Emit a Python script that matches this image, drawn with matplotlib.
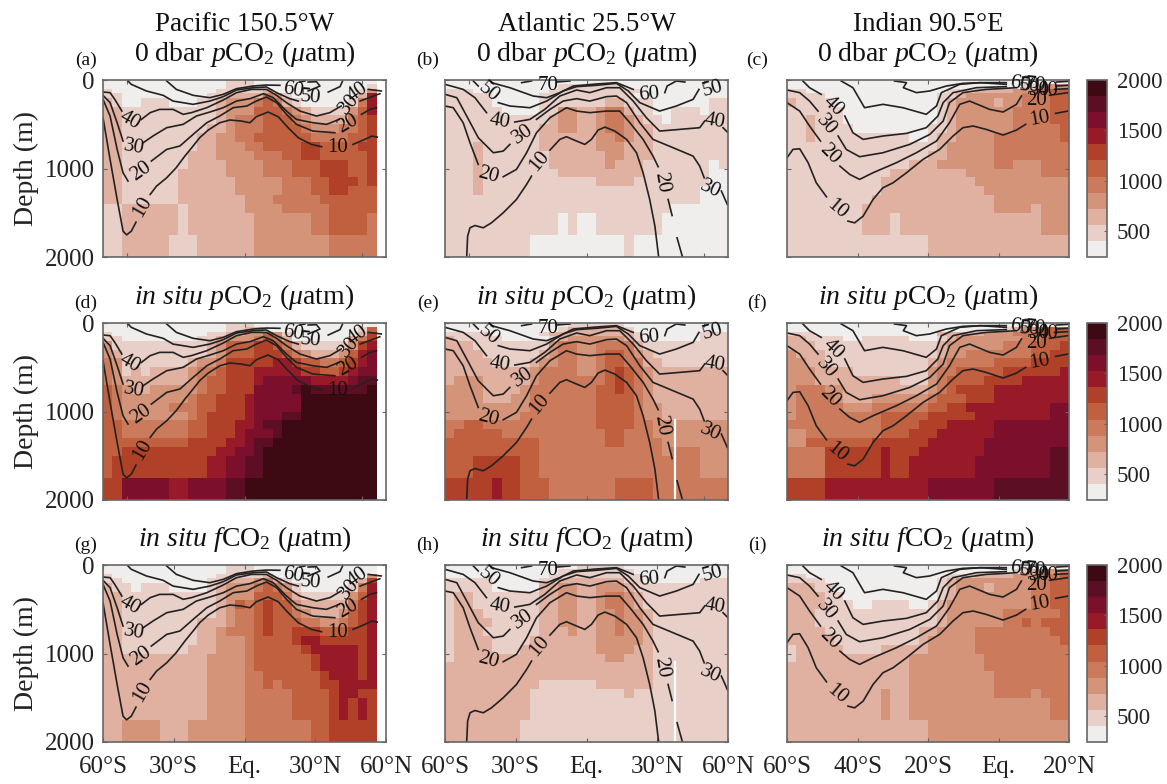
#Ocean pCO2 / fCO2 sections for three basins, 3 rows x 3 columns

import numpy as np
import matplotlib
matplotlib.use("Agg")
import matplotlib.pyplot as plt
from matplotlib.colors import ListedColormap, BoundaryNorm

plt.rcParams['font.family'] = ['Liberation Serif', 'DejaVu Serif']
plt.rcParams['mathtext.fontset'] = 'custom'
plt.rcParams['mathtext.rm'] = 'Liberation Serif'
plt.rcParams['mathtext.it'] = 'Liberation Serif:italic'
plt.rcParams['mathtext.bf'] = 'Liberation Serif:bold'

# colour classes (uatm)
levels = [240, 400, 560, 720, 880, 1040, 1200, 1360, 1520, 1680, 1840, 2000]
colours = ['#efeeed', '#e8cfc8', '#e0b0a0', '#d49479', '#cc7a5c', '#c0603f',
           '#b04028', '#981a28', '#7c0f2c', '#5c0e24', '#3d0a14']
cbar_ticks = [500, 1000, 1500, 2000]

depth_edges = [0, 50, 100, 150, 200, 300, 400, 500, 600, 700, 800, 900, 1000,
               1100, 1200, 1300, 1400, 1500, 1750, 2000]

# class index per depth row (top to bottom), one character per column, . = no data
panel_a = [
    "0"*13+"111"+"0"*13+".",
    "0"*13+"111"+"0"*12+"1.",
    "1"+"0"*11+"11111"+"2"+"0"*9+"13.",
    "11"+"0"*9+"11"+"222"+"2"+"4"+"3"+"1"+"0"*7+"27.",
    "21"+"00"+"111"+"000"+"11"+"2"+"333"+"4"+"5"+"4"+"2"+"1"+"00000"+"1"+"4"+"7.",
    "22"+"11"+"111111"+"11"+"2"+"333"+"555"+"4"+"3"+"2"+"111"+"1"+"3"+"5"+"7.",
    "22"+"1"*10+"2"+"3"+"44"+"4"+"555"+"4"+"3"+"2"+"22"+"2"+"4"+"5"+"6.",
    "22"+"1"*9+"22"+"3"+"44"+"4"+"555"+"5"+"4"+"3"+"33"+"4"+"4"+"5"+"6.",
    "22"+"1"*8+"22"+"33"+"44"+"5"+"555"+"5"+"5"+"4"+"44"+"4"+"5"+"5"+"6.",
    "22"+"1"*8+"22"+"333"+"44"+"55"+"55"+"66"+"5555"+"66.",
    "22"+"1"*7+"222"+"3333"+"444"+"55"+"66"+"5555"+"5"+"6.",
    "22"+"1"*7+"2222"+"33"+"33"+"444"+"555"+"666"+"55"+"6.",
    "22"+"1"*6+"22222"+"3333"+"444"+"555"+"666"+"55"+"6.",
    "22"+"1"*6+"2"*6+"3"*5+"444"+"55"+"666"+"5"+"6.",
    "22"+"1"*6+"2"*6+"33"+"333"+"444"+"55"+"66"+"555.",
    "22"+"1"*6+"2"*7+"333"+"4"*5+"5"*6+".",
    "11"+"2"*6+"1"+"2"*6+"3333"+"4"*5+"5"*5+".",
    "11"+"2"*6+"1"+"2"*7+"3"*6+"44"+"5555"+"4.",
    "11"+"2"*5+"111"+"2"*6+"3"*8+"4"*5+".",
]
panel_b = [
    "0"*30,
    "0"*12+"1"*7+"0"*11,
    "111"+"0"*8+"1"*10+"0"*9,
    "1"*5+"0"*5+"1"*10+"0"*10,
    "1"*5+"0"*5+"1"*7+"22"+"111"+"0"*6+"11",
    "1"*6+"0"*4+"11"+"33"+"22"+"3"+"44"+"2"+"11"+"00"+"111"+"0"+"11",
    "1"*11+"2"+"33"+"22"+"3"+"44"+"3"+"2"+"11"+"0"+"1"*6,
    "1"*10+"22"+"33"+"22"+"3"+"4"+"4"+"3"+"22"+"1"*8,
    "1"*10+"2222"+"22"+"33"+"4"+"3"+"22"+"1"*8,
    "111"+"2"+"1"*6+"2"*6+"333"+"222"+"1"*8,
    "111"+"2"+"1"*7+"2"*6+"33"+"222"+"1"*8,
    "111"+"2"+"1"*7+"2"*6+"3"+"222"+"1"*7+"01",
    "111"+"2"+"1"*8+"2"*9+"1"*7+"00",
    "111"+"2"+"1"*12+"2"*4+"1"*8+"00",
    "111"+"2"+"1"*23+"000",
    "1"*27+"000",
    "1"*24+"0"*6,
    "1"*12+"0"+"1"+"00"+"1"*7+"0"*7,
    "1"*9+"0"*10+"1"+"0"*10,
]
panel_c = [
    "0"*30,
    "0"*25+"11"+"2"+"33",
    "11"+"0"*15+"111"+"222"+"2"+"33"+"44"+"55",
    "1111"+"0"*12+"11"+"2"+"3333"+"33"+"4"+"44"+"55",
    "2"+"1111"+"0"*11+"1"+"2"+"3333"+"2"+"33"+"4"+"44"+"55",
    "1"*6+"0"*10+"1"+"2"+"3"*6+"4"*4+"55",
    "11"+"2"+"111"+"0"*10+"1"+"2"+"3"*6+"4"*4+"55",
    "11"+"2"+"1"*4+"0"*8+"11"+"2"+"3"*6+"4"*5+"5",
    "11"+"2"+"1"*10+"00"+"1"+"22"+"3"*4+"4"*7+"5",
    "1"*16+"2"+"3"*5+"4"*8,
    "1"*15+"22"+"3"*5+"4"*8,
    "1"*13+"222"+"3"*6+"44"+"333"+"444",
    "1"*11+"2"*8+"3"*8+"444",
    "1"*10+"2"*10+"3"*10,
    "1"*10+"2"*11+"3"*9,
    "1"*9+"2"*13+"3"*8,
    "1"*8+"2"*14+"3"*4+"2"+"333",
    "1"*8+"222"+"1"+"2"*15+"333",
    "1"*15+"2"*15,
]
panel_d = [
    "0"*13+"111"+"0"*13+".",
    "0"*13+"11"+"22"+"0"*10+"15.",
    "1"+"0"*10+"1"+"1"+"22"+"33"+"5"+"3"+"1"+"0"*7+"26.",
    "11"+"0"*8+"1"+"12"+"333"+"4"+"5"+"4"+"2"+"0"*6+"246.",
    "3"+"1"*10+"2"+"3"+"555"+"66"+"5"+"4"+"2"+"1"*5+"367.",
    "32"+"1"*9+"2"+"3"+"555"+"666"+"5"+"4"+"3"+"222"+"3"+"578.",
    "43"+"1"*7+"2"+"33"+"4"+"666"+"66"+"77"+"6"+"55"+"44"+"5"+"678.",
    "43"+"12"+"1"+"2"*4+"3"+"44"+"5"+"666"+"77"+"777"+"6"+"65"+"5"+"6"+"7"+"88.",
    "43"+"2"*7+"3"+"4"+"55"+"666"+"7"+"8"*5+"7"*4+"8"+"99.",
    "54"+"3"+"22"+"3"*4+"3"+"4"+"55"+"666"+"8"*4+"9"+"a"+"9"*6+"a.",
    "54"+"3"*7+"4"+"55"+"666"+"7"+"8"*5+"a"*8+".",
    "54"+"3"*5+"44"+"4"+"55"+"666"+"7"+"8"*5+"a"*8+".",
    "54"+"3"*7+"4"+"5"+"66"+"66"+"7"+"888"+"99"+"a"*8+".",
    "55"+"4"*7+"55"+"666"+"77"+"8"+"99"+"a"*10+".",
    "55"+"4"*7+"55"+"6"+"66"+"7"+"888"+"9"+"a"*10+".",
    "5"*9+"6"*4+"77"+"8"+"99"+"a"*11+".",
    "55"+"6"*10+"77"+"88"+"9"+"a"*12+".",
    "56"+"6"*9+"77"+"88"+"99"+"a"*12+".",
    "66"+"8"*5+"77"+"8"*4+"99"+"a"*14+".",
]
panel_e = [
    "0"*13+"1"*6+"0"*11,
    "0"*12+"1"+"2"*6+"1"+"0"*10,
    "1"*5+"0"*5+"1"+"222"+"2"*6+"1"+"0"*6+"111",
    "2"+"1"*5+"0"*5+"1"+"2"+"3"*6+"2"+"1"+"0"*6+"111",
    "222"+"1"*8+"3"+"44"+"33"+"4444"+"2"+"1"*9,
    "2"*4+"1"*6+"2"+"3"+"44"+"33"+"4"+"55"+"4"+"3"+"2"+"1"*8,
    "2"*5+"1"*4+"2"+"33"+"44"+"33"+"4"+"55"+"44"+"22"+"1"*7,
    "2"*9+"3"+"4"*4+"33"+"4"+"5"+"6"+"5"+"4"+"3"+"2"*8,
    "2"+"333"+"2"*5+"3"+"4"*7+"5"+"6"+"5"+"4"+"3"+"2"*8,
    "3"*4+"2"*4+"3"+"4"*7+"55"+"6"+"5"+"4"+"3"+"2"*8,
    "3"*4+"222"+"33"+"4"*7+"5"*4+"4"+"3"+"2"*8,
    "3"*9+"4"*7+"5"*4+"4"+"33"+"2"*7,
    "3"*8+"4"*8+"5"*4+"4"+"33"+"2"*7,
    "44"+"55"+"4"*12+"5"*4+"44"+"3"*8,
    "4"+"5"*5+"4"*11+"55"+"444"+"3"*8,
    "5"*10+"4"*7+"55"+"4"*4+"3"*7,
    "5"*10+"4"*13+"3"+"444"+"333",
    "555"+"6"*5+"55"+"4"*17+"333",
    "6"*5+"7"+"66"+"555"+"4"*7+"5"*4+"4"*8,
]
panel_f = [
    "0"*30,
    "0"*23+"1"+"2"+"33"+"4"+"55",
    "111"+"0"*13+"2"*5+"333"+"444"+"555",
    "22"+"1"*4+"00"+"1"*5+"000"+"1"+"2"+"3"*7+"44"+"555",
    "222"+"1"*13+"2"+"3"+"3"*5+"4"+"44"+"555"+"6",
    "3"+"222"+"1"*12+"2"+"33"+"4"*7+"55"+"66",
    "33"+"22"+"1"*11+"2"+"3"+"4"*5+"5"*4+"6"*4,
    "333"+"2222"+"1"*8+"3"+"44"+"5"*5+"6"*6+"7",
    "333"+"2"*9+"111"+"3"+"4"+"5"*4+"6"*4+"7"*5,
    "3"+"444"+"33"+"2"*9+"3"+"4"+"5"+"666"+"6"+"7"*8,
    "3"+"4"*4+"3"+"222"+"3"*6+"4"+"555"+"666"+"7"*8,
    "3"+"4"*5+"333"+"4"*6+"55"+"66"+"7"*9+"88",
    "3"+"4"*9+"5"*5+"6"*5+"7"*8+"88",
    "4"*10+"5"*4+"666"+"7"*5+"8"*8,
    "33"+"4"*8+"555"+"666"+"7"*6+"8"*8,
    "33"+"5"*7+"6"*6+"7"*6+"8"*9,
    "4"*4+"6"*6+"7"+"666"+"7"*7+"8"*7+"99",
    "4"*4+"6"*6+"7"+"66"+"7"*7+"8"*8+"99",
    "6"*4+"7"*11+"8"*7+"9"*8,
]
panel_g = [
    "0"*13+"111"+"0"*13+".",
    "0"*13+"111"+"0"*13+".",
    "1"+"0"*11+"11111"+"2"+"0"*10+"3.",
    "11"+"0"*9+"11"+"222"+"3"+"4"+"2"+"1"+"0"*7+"26.",
    "211"+"0"+"111"+"0000"+"1"+"2"+"333"+"4"+"5"+"4"+"3"+"1"+"0"*5+"147.",
    "22"+"1"*9+"1"+"2"+"33"+"3"+"555"+"4"+"2"+"1"*5+"357.",
    "22"+"1"*10+"2"+"3"+"5"+"4"+"5"+"6"+"55"+"3"+"2"*5+"467.",
    "22"+"1"*10+"2"+"3"+"4"+"4"+"5"+"6"+"55"+"4"+"3"+"222"+"3"+"567.",
    "22"+"1"*8+"22"+"2"+"3"+"44"+"5"+"6"+"55"+"5"+"4"+"4"+"33"+"4"+"5"+"67.",
    "22"+"1"*8+"22"+"3"+"444"+"5"+"6"+"55"+"666"+"555"+"66"+"7.",
    "22"+"1"*8+"22"+"333"+"4"+"5555"+"6"+"77"+"6"*5+"7.",
    "22"+"1"*7+"222"+"333"+"4"+"5"*5+"6"+"7"*5+"67.",
    "2"*11+"3"*4+"4"+"5"*6+"6"+"7"*4+"67.",
    "2"*11+"3"*4+"4"+"5"*6+"6"+"7"*4+"67.",
    "2"*11+"3"*4+"44"+"5"*6+"6"+"777"+"67.",
    "2"*11+"3"*4+"44"+"5"+"4"+"5"*4+"66"+"77"+"77.",
    "2"*11+"3"*4+"4"*5+"5"*4+"6"+"77"+"66.",
    "2"*11+"3"*4+"4"*5+"5"*4+"67676.",
    "22"+"3"*4+"222"+"3"*6+"4"*7+"55"+"6"*5+".",
]
panel_h = [
    "0"*14+"1"*5+"0"*11,
    "0"*12+"1"*8+"0"*10,
    "0"*11+"1"*10+"0"*9,
    "1"*5+"0"*5+"11"+"2"*7+"11"+"0"*6+"111",
    "1"*5+"0"*5+"22"+"33"+"22"+"333"+"2"+"1"+"1"*9,
    "1"+"22"+"1"*7+"22"+"33"+"22"+"3"+"44"+"3"+"2"+"1"*9,
    "1"+"22"+"1"*7+"22"+"33"+"22"+"3"+"44"+"3"+"2"+"1"*9,
    "1"+"222"+"1"*6+"22"+"33"+"22"+"33"+"4"+"3"+"3"+"2"+"1"*8,
    "1"+"222"+"2"+"1"*5+"22"+"33"+"22"+"33"+"4"+"3"+"3"+"2"+"1"*8,
    "1"+"222"+"1"*6+"222"+"3"+"22"+"33"+"4"+"3"+"3"+"2"+"1"*8,
    "1"+"222"+"2"+"1"*4+"2"*7+"333"+"33"+"2"+"1"*8,
    "1"+"2"*4+"111"+"2"*8+"3333"+"22"+"1"*8,
    "1"+"2"*16+"33"+"222"+"1"*8,
    "2"*22+"1"*8,
    "2"*22+"1"*8,
    "2"*10+"1"*6+"2"*6+"1"*8,
    "2"*9+"1"*10+"2"+"1"*10,
    "2"*9+"1"*21,
    "2"*8+"1"*22,
]
panel_i = [
    "0"*30,
    "0"*24+"11"+"2"+"33"+"4",
    "11"+"0"*15+"111"+"2222"+"33"+"3"+"44"+"5",
    "1"*4+"0"*12+"1"+"2"+"3"*6+"3"+"3"+"44"+"55",
    "222"+"11"+"0"*11+"1"+"2"+"333"+"2"+"3333"+"44"+"55",
    "2"*4+"11"+"0"*10+"1"+"2"+"3"*8+"44"+"55",
    "222"+"2"+"111"+"00"+"1111"+"00"+"1"+"2"+"3"+"3"*5+"333"+"44"+"55",
    "222"+"1"*12+"1"+"2"+"3"*6+"444"+"444"+"5",
    "2"*3+"1"*13+"2"+"3"*6+"44"+"5"+"4"+"555",
    "2222"+"1"*10+"22"+"3"*4+"4"*8+"55",
    "2"*5+"1"*9+"2"+"3"*5+"4"*8+"45",
    "1"+"2"*5+"1"*4+"2"*5+"3"*5+"4"*10,
    "1"+"2"*12+"3"*8+"4"*9,
    "2"*13+"3"*8+"4"*9,
    "2"*13+"3"*9+"4"*8,
    "2"*13+"3"*9+"4"*8,
    "2"*10+"3"+"22"+"3"*9+"4"*4+"3"+"444",
    "2"*10+"3"+"22"+"3"*15+"44",
    "2"*15+"3"*15,
]

# contour segments (lon, depth), broken where the label sits
pacific_lines = [
    [(-60,426),(-57,897),(-54,1350),(-51.5,1708),(-50,1750),(-48,1708),(-46,1606)],
    [(-40,1293),(-37.3,1199),(-33,1105),(-29,992),(-25.3,860),(-21.8,746),(-19,652),(-15.4,566),(-10.5,483),(-6.2,452),(-1.3,464),(2.3,483),(5,415),(10,362),(14.3,415),(18.5,539),(22.8,652),(28.4,728),(32.7,754)],
    [(46,728),(51,671),(54,634),(56.3,645)],
    [(-60,219),(-57,407),(-54,784),(-51.5,1048),(-49.4,1142)],
    [(-39.5,916),(-33,784),(-27.4,746),(-21.8,615),(-16,483),(-10.5,407),(-4.8,313),(1,294),(5,238),(9.3,192),(13.6,256),(17.8,388),(22,501),(29,577),(38.3,596)],
    [(49.6,388),(53.2,332),(56,313)],
    [(-60,173),(-57,256),(-54,483),(-51.5,690)],
    [(-43,709),(-38.8,633),(-33,539),(-26,501),(-20.4,407),(-14.7,362),(-9,313),(-3.4,238),(2.3,211),(8,155),(12.2,200),(17.8,351),(22,445),(29,483),(34.8,501),(40.2,445)],
    [(49,238),(57.4,155)],
    [(-60,136),(-57,143),(-55,219),(-52,351)],
    [(-43.7,445),(-40,369),(-36,332),(-30.3,332),(-26,388),(-22.5,369),(-16,313),(-9,226),(-3.4,143),(3,106),(9.3,106),(13.6,173),(17.8,256),(23.5,351),(30.5,407),(36.2,369),(41,294)],
    [(52.5,106),(58,124)],
    [(-49.4,11),(-48,49),(-41.6,124),(-34.5,173),(-30.3,238),(-21.8,275),(-14.7,238),(-9,188),(-3.4,113),(3.7,87),(9.3,79),(13.6,143),(19.2,211),(22.8,238)],
    [(35.5,136),(40.5,75),(41.6,11)],
    [(27,124),(32,68),(30.5,19),(27,23)],
    [(-33,11),(-28.9,106),(-21.8,173),(-14.7,200),(-9,162),(-3.4,98),(3.7,68),(9.3,57),(15,60)],
    [(23.5,23),(25.6,11)],
]
pacific_labels = [("40",-48.7,456,-30),("30",-47,765,-10),("20",-44,1029,35),("10",-43.3,1433,60),
                  ("60",20.6,117,-10),("50",28,200,-5),("40",47.8,143,35),("30",44.4,275,50),
                  ("20",44,501,30),("10",39.5,765,0)]

atlantic_lines = [
    [(-50.8,2000),(-50.4,1764),(-49.4,1670),(-47.3,1644),(-43.8,1670),(-40.3,1614),(-35.3,1500),(-29.7,1350),(-25.4,1180),(-23.3,1086)],
    [(-15.5,792),(-11.3,671),(-8.5,641),(-4.2,690),(-0.7,728),(2.1,671),(4.9,566),(7.8,532),(12,577),(17,671),(21.2,822),(24,1048),(26.8,1350),(29,1651),(30.6,2000)],
    [(-60,294),(-56.5,313),(-52.3,483),(-49.4,709),(-45.9,954)],
    [(-35.3,1093),(-29.7,1010),(-25.4,822),(-21.2,596),(-15.5,426),(-8.5,313),(-4.2,351),(1.4,369),(8.5,351),(14.1,351),(18.4,483),(24,671),(28.2,860),(30.4,980)],
    [(34.6,1350),(36.3,1531)],
    [(38.4,1783),(40.7,2000)],
    [(-60,162),(-55,200),(-50.8,407),(-45.9,652),(-39.5,822),(-35.3,803),(-32.5,728)],
    [(-21.2,445),(-15.5,332),(-9.9,238),(-4.2,211),(1.4,238),(8.5,188),(12.7,181),(17,256),(22.6,483),(28.2,671),(36.7,765),(45.2,860),(48,973),(49.9,1105)],
    [(57.2,1255),(59.7,1406)],
    [(-60,49),(-52.3,106),(-47.3,200),(-42.4,369)],
    [(-30.4,475),(-24,445),(-17.7,332),(-11.3,181),(-4.2,113),(1.4,143),(8.5,87),(14.1,87),(19.8,238),(25.4,426),(31,577),(39.5,558),(48,539),(50.1,464)],
    [(57.9,539),(59.7,588)],
    [(-48,11),(-45.9,68)],
    [(-37.4,256),(-32.5,294),(-24,313),(-16.9,238),(-9.9,124),(-4.2,75),(4.2,60),(12.7,38),(17.7,124),(22.6,256),(31,351),(38.1,294),(45.2,219),(47.7,106)],
    [(-40.3,30),(-32.5,87),(-22.6,181),(-16.9,200),(-11.3,143),(-5.6,68),(4.2,45),(12.7,30),(19.8,106)],
    [(33.2,143),(34.2,68),(38.1,11),(41.7,23)],
    [(-27.5,30),(-23.3,11)],
    [(-12.7,23),(-7,11)],
]
atlantic_labels = [("50",-41.7,143,-40),("70",-16.2,60,0),("60",26.4,162,5),("50",53.4,106,15),
                   ("40",-36.7,464,-10),("30",-26.8,615,35),("40",54.4,464,-10),("20",-41.7,1074,-15),
                   ("10",-19.8,916,50),("20",31.8,1161,-80),("30",52.3,1237,-25)]
atlantic_gap_lon = 37.7
atlantic_gap_depth = [1093, 2000]

indian_lines = [
    [(-60,878),(-58.3,784),(-56.4,777),(-54,935),(-51.7,1161),(-48.8,1320)],
    [(-42.7,1595),(-40.8,1614),(-38.4,1538),(-35.6,1350),(-32.8,1218),(-29.9,1161),(-26.1,1048),(-21.4,897),(-16.7,784),(-12.9,633),(-10.1,539),(-7.2,520),(-3.5,558),(1.3,622),(5.1,566),(7.7,501)],
    [(16.2,377),(19.7,351)],
    [(-60,256),(-56.4,351),(-53.6,520),(-50.5,690)],
    [(-45,973),(-42.2,1067),(-39.4,1123),(-35.6,1048),(-29,935),(-23.3,822),(-17.6,690),(-13.9,483),(-11,275),(-8.2,238),(-2.5,332),(1.3,362),(5.1,275),(6.5,181)],
    [(14.5,173),(19.7,143)],
    [(-60,113),(-56.4,143),(-53.6,238),(-51.2,351)],
    [(-45.5,633),(-43.2,784),(-39.4,867),(-32.8,822),(-25.2,728),(-19.5,615),(-15.7,464),(-13.9,256),(-10.1,143),(-3.5,106),(5.1,87)],
    [(15.9,106),(19.7,98)],
    [(-55.5,11),(-53.6,87),(-50.3,162)],
    [(-43.6,407),(-41.3,596),(-38.4,671),(-32.8,633),(-26.1,603),(-20.5,539),(-17.2,407),(-15.7,256),(-12.9,143),(-6.3,87),(2.2,75)],
    [(16.4,68),(19.7,60)],
    [(-44.6,11),(-41.3,87),(-38,313),(-32.8,275),(-27.1,313),(-20.5,388),(-17.6,294),(-16.2,143),(-11,49),(-5.3,30),(2.2,49)],
    [(-29.5,11),(-26.1,30),(-27,87),(-23.3,143),(-19.5,124),(-14.8,68),(-10.1,38),(-4.5,30),(2.2,30)],
    [(16.4,23),(19.7,15)],
]
indian_labels = [("40",-47,294,-45),("30",-49,509,-50),("20",-48,841,-45),("10",-45.8,1463,-40),
                 ("60",6.2,49,-10),("50",8.8,75,-5),("70",10.5,60,-5),("30",11.7,113,0),("40",14,113,0),
                 ("20",10.9,226,0),("10",11.7,437,10)]

row_titles = ["0 dbar $\\mathit{p}$CO$_2$ ($\\mu$atm)",
              "$\\mathit{in\\ situ}$ $\\mathit{p}$CO$_2$ ($\\mu$atm)",
              "$\\mathit{in\\ situ}$ $\\mathit{f}$CO$_2$ ($\\mu$atm)"]
column_titles = ["Pacific 150.5°W", "Atlantic 25.5°W", "Indian 90.5°E"]
panel_names = ["(a)", "(b)", "(c)", "(d)", "(e)", "(f)", "(g)", "(h)", "(i)"]
panels = [panel_a, panel_b, panel_c, panel_d, panel_e, panel_f, panel_g, panel_h, panel_i]

lon_ranges = [(-60, 60), (-60, 60), (-60, 20)]
lon_lines = [pacific_lines, atlantic_lines, indian_lines]
lon_labels = [pacific_labels, atlantic_labels, indian_labels]
lat_ticks_upper = [[-50, 0, 50], [-50, 0, 50], [-40, -20, 0]]
lat_labels_lower = [["60°S", "30°S", "Eq.", "30°N", "60°N"],
                    ["60°S", "30°S", "Eq.", "30°N", "60°N"],
                    ["60°S", "40°S", "20°S", "Eq.", "20°N"]]
lat_label_pos = [[-60, -30, 0, 30, 60], [-60, -30, 0, 30, 60], [-60, -40, -20, 0, 20]]

W, H = 1167, 784
col_px = [(103, 386), (445, 728), (787, 1069)]
row_px = [(80, 257), (323, 500), (565, 742)]
edge = '#666666'

cmap = ListedColormap(colours)
cmap.set_bad('white')
norm = BoundaryNorm(levels, cmap.N)
mids = [(levels[i] + levels[i + 1]) / 2 for i in range(len(colours))]


def to_values(rows):
    # a row read a cell short or long is evened out to 30 columns, keeping the no-data edge
    out = []
    for r in rows:
        tail = '.' if r.endswith('.') else ''
        body = r.rstrip('.')
        body = (body + body[-1] * 30)[:30 - len(tail)] + tail
        out.append([np.nan if c == '.' else mids[int(c, 16)] for c in body])
    return np.array(out)


def make_axes(x0, x1, y0, y1):
    return fig.add_axes([x0 / W, 1 - y1 / H, (x1 - x0) / W, (y1 - y0) / H])


def style(ax):
    for s in ax.spines.values():
        s.set_color(edge)
        s.set_linewidth(1.2)


fig = plt.figure(figsize=(W / 100, H / 100), dpi=100)

for r in range(3):
    for c in range(3):
        ax = make_axes(col_px[c][0], col_px[c][1], row_px[r][0], row_px[r][1])
        lon0, lon1 = lon_ranges[c]
        mesh = ax.pcolormesh(np.linspace(lon0, lon1, 31), depth_edges, to_values(panels[r * 3 + c]),
                             cmap=cmap, norm=norm, shading='flat')
        if c == 1 and r > 0:
            ax.plot([atlantic_gap_lon, atlantic_gap_lon], atlantic_gap_depth, color='white', linewidth=1.6)
        for seg in lon_lines[c]:
            pts = np.array(seg)
            ax.plot(pts[:, 0], pts[:, 1], color='#222222', linewidth=1.2, solid_joinstyle='round')
        for txt, lon, dep, rot in lon_labels[c]:
            ax.text(lon, dep, txt, fontsize=15, rotation=rot, ha='center', va='center', color='#111111')
        ax.set_xlim(lon0, lon1)
        ax.set_ylim(2000, 0)
        ax.set_yticks([0, 1000, 2000])
        style(ax)
        ax.tick_params(direction='in', length=3, top=True, right=True, color=edge, labelsize=18,
                       labelcolor='#222222')
        ax.tick_params(axis='x', pad=10)
        ax.tick_params(axis='y', pad=6)
        if c == 0:
            ax.set_yticklabels(["0", "1000", "2000"])
            ax.set_ylabel("Depth (m)", fontsize=20, color='#222222', labelpad=4)
        else:
            ax.set_yticklabels([])
        if r == 2:
            ax.set_xticks(lat_label_pos[c])
            ax.set_xticklabels(lat_labels_lower[c])
        else:
            ax.set_xticks(lat_ticks_upper[c])
            ax.set_xticklabels([])
        ax.text(0.5, 1.11, row_titles[r], transform=ax.transAxes, ha='center', va='baseline',
                fontsize=20, color='#111111')
        if r == 0:
            ax.text(0.5, 1.277, column_titles[c], transform=ax.transAxes, ha='center', va='baseline',
                    fontsize=19.5, color='#111111')
        xlab = -0.06 if c < 2 else -0.106
        ax.text(xlab, 1.113, panel_names[r * 3 + c], transform=ax.transAxes, ha='center', va='center',
                fontsize=14, color='#111111')
    cax = make_axes(1087, 1107, row_px[r][0], row_px[r][1])
    cb = fig.colorbar(mesh, cax=cax, ticks=cbar_ticks, spacing='proportional')
    cb.ax.minorticks_off()
    cb.ax.tick_params(direction='in', length=2, labelsize=16.5, color=edge, labelcolor='#222222', pad=7)
    cb.outline.set_edgecolor(edge)
    cb.outline.set_linewidth(1.2)

fig.savefig("out.png", dpi=100)
